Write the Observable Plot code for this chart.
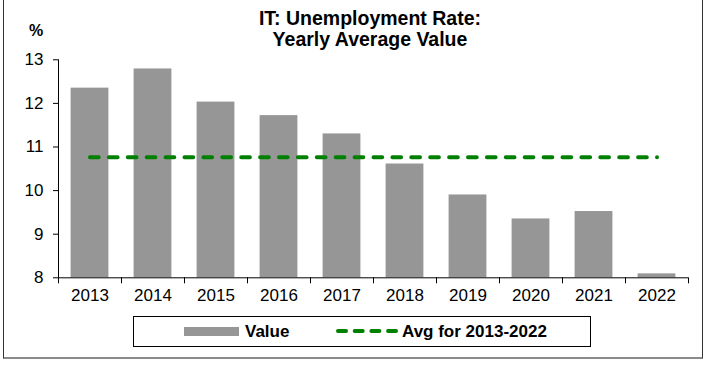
<!DOCTYPE html>
<html>
<head>
<meta charset="utf-8">
<script src="https://cdn.jsdelivr.net/npm/d3@7"></script>
<script src="https://cdn.jsdelivr.net/npm/@observablehq/plot@0.6"></script>
<style>
  html, body { margin: 0; padding: 0; background: #fff; }
  #wrap { position: relative; width: 704px; height: 365px; overflow: hidden; font-family: "Liberation Sans", Arial, sans-serif; color: #000; }
  #frame { position: absolute; left: 3px; top: -2px; width: 700px; height: 361px; border-left: 1px solid #333; border-right: 1px solid #333; border-bottom: 2px solid #8a8a8a; box-sizing: border-box; }
  #chart { position: absolute; left: 0; top: 0; }
  .title { position: absolute; left: 170px; top: 8px; width: 400px; text-align: center; font-weight: bold; font-size: 19.5px; line-height: 21px; }
  .unit { position: absolute; left: 29px; top: 22.7px; font-weight: bold; font-size: 16px; line-height: 16px; }
  .legend { position: absolute; left: 133px; top: 315.7px; width: 458px; height: 31px; border: 1px solid #000; box-sizing: border-box; }
  .lg { position: absolute; font-weight: bold; font-size: 17px; line-height: 17px; top: 322.9px; white-space: nowrap; }
</style>
</head>
<body>
<div id="wrap">
  <div id="frame"></div>
  <div id="chart"></div>
  <div class="title">IT: Unemployment Rate:<br>Yearly Average Value</div>
  <div class="unit">%</div>
  <div class="legend"></div>
  <div style="position:absolute;left:184px;top:327px;width:55px;height:9px;background:#969696;"></div>
  <div class="lg" style="left:245px;">Value</div>
  <svg style="position:absolute;left:334px;top:326px;" width="66" height="10">
    <line x1="4" y1="5" x2="62" y2="5" stroke="#008000" stroke-width="4" stroke-linecap="round" stroke-dasharray="8,8.7"></line>
  </svg>
  <div class="lg" style="left:402px;">Avg for 2013-2022</div>
</div>
<script>
const years = [2013, 2014, 2015, 2016, 2017, 2018, 2019, 2020, 2021, 2022];
const values = [12.35, 12.79, 12.03, 11.72, 11.30, 10.61, 9.90, 9.35, 9.52, 8.09];
const yTicks = [8, 9, 10, 11, 12, 13];

const data = years.map((year, i) => ({year, value: values[i]}));
const avg = d3.mean(values);
const xMin = d3.min(years) - 0.5, xMax = d3.max(years) + 0.5;
const boundaries = d3.range(xMin, xMax + 0.01, 1);
const yMin = d3.min(yTicks), yMax = d3.max(yTicks);

const chart = Plot.plot({
  width: 704,
  height: 365,
  marginLeft: 58,
  marginRight: 16,
  marginTop: 59.3,
  marginBottom: 87.7,
  x: {type: "linear", domain: [xMin, xMax]},
  y: {domain: [yMin, yMax]},
  style: {fontFamily: "'Liberation Sans', Arial, sans-serif", fontSize: "17px", color: "#000", background: "transparent", overflow: "visible"},
  marks: [
    Plot.rectY(data, {x1: d => d.year - 0.3, x2: d => d.year + 0.3, y1: yMin, y2: "value", fill: "#969696"}),
    Plot.lineY(years, {x: d => d, y: () => avg, stroke: "#008000", strokeWidth: 4, strokeDasharray: "8.7,10.2", strokeLinecap: "round"}),
    Plot.ruleX([xMin], {y1: yMin, y2: yMax, stroke: "#000"}),
    Plot.ruleY([yMin], {stroke: "#000"}),
    Plot.axisY({ticks: yTicks, tickSize: 5, tickPadding: 10, tickFormat: d => String(d), label: null}),
    Plot.axisX({ticks: boundaries, tickSize: 6, tickFormat: () => "", label: null}),
    Plot.axisX({ticks: years, tickSize: 0, tickPadding: 11, tickFormat: d => String(d), label: null})
  ]
});
document.getElementById("chart").appendChild(chart);
</script>
</body>
</html>
